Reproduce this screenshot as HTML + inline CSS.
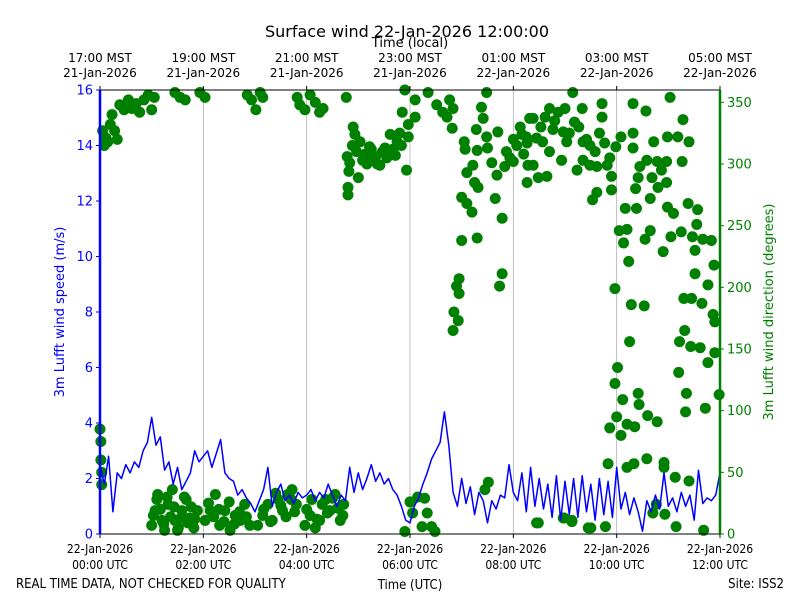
<!DOCTYPE html>
<html><head><meta charset="utf-8">
<style>
body{margin:0;background:#fff;}
svg{display:block;font-family:"DejaVu Sans","Liberation Sans",sans-serif;}
.c{font-family:"DejaVu Sans Condensed","DejaVu Sans","Liberation Sans",sans-serif;}
</style></head>
<body>
<svg id="chart" width="800" height="600" viewBox="0 0 800 600" xmlns="http://www.w3.org/2000/svg">
<rect width="800" height="600" fill="#fff"/>
<text x="407" y="37" font-size="16" text-anchor="middle">Surface wind 22-Jan-2026 12:00:00</text>
<text x="410" y="47" font-size="13" text-anchor="middle">Time (local)</text>
<g id="grid"></g>
<g id="dirg"></g>
<g id="spdg"></g>
<g id="axes"></g>
<text transform="translate(64,312) rotate(-90)" font-size="13" fill="#0000ff" text-anchor="middle">3m Lufft wind speed (m/s)</text>
<text transform="translate(773,312) rotate(-90)" font-size="13" fill="#008000" text-anchor="middle">3m Lufft wind direction (degrees)</text>
<text class="c" x="410" y="589" font-size="13" text-anchor="middle">Time (UTC)</text>
<text class="c" x="16" y="588" font-size="13">REAL TIME DATA, NOT CHECKED FOR QUALITY</text>
<text class="c" x="784" y="588" font-size="13" text-anchor="end">Site: ISS2</text>
</svg>
<script>
const timeTicksUTC = ["00:00 UTC","02:00 UTC","04:00 UTC","06:00 UTC","08:00 UTC","10:00 UTC","12:00 UTC"];
const dateTicksUTC = ["22-Jan-2026","22-Jan-2026","22-Jan-2026","22-Jan-2026","22-Jan-2026","22-Jan-2026","22-Jan-2026"];
const timeTicksLocal = ["17:00 MST","19:00 MST","21:00 MST","23:00 MST","01:00 MST","03:00 MST","05:00 MST"];
const dateTicksLocal = ["21-Jan-2026","21-Jan-2026","21-Jan-2026","21-Jan-2026","22-Jan-2026","22-Jan-2026","22-Jan-2026"];
const speedTicks = [0,2,4,6,8,10,12,14,16];
const dirTicks = [0,50,100,150,200,250,300,350];
const speedStepMin = 5;
const speedValues = [2.5,1.8,2.8,0.8,2.2,2.0,2.5,2.2,2.6,2.4,3.0,3.3,4.2,3.2,3.5,2.3,2.6,1.8,2.4,1.6,1.9,2.2,3.0,2.6,2.8,3.0,2.4,2.9,3.4,2.2,2.0,1.9,1.4,1.6,1.3,1.1,0.8,1.2,1.6,2.4,1.0,1.5,1.8,1.2,1.4,1.1,1.5,1.3,1.4,1.6,1.2,1.5,1.3,1.8,1.4,1.0,1.4,1.2,2.4,1.5,2.2,1.6,2.0,2.5,1.9,2.2,1.8,2.0,1.6,1.4,1.0,0.5,0.4,1.0,1.3,1.8,2.2,2.7,3.0,3.3,4.4,3.2,1.5,1.0,2.0,1.1,1.7,0.7,1.5,1.2,0.4,1.2,0.9,1.4,1.3,2.5,1.5,1.2,2.2,0.8,2.4,1.0,2.0,0.9,1.8,0.6,2.1,0.5,1.9,0.7,2.0,0.6,2.1,0.8,1.8,0.5,2.0,0.7,1.9,0.6,2.4,0.9,1.5,0.7,1.3,0.8,0.1,1.2,0.8,1.4,0.9,2.2,1.0,1.3,0.8,1.5,1.0,1.4,0.5,2.3,1.1,1.3,1.2,1.4,2.2];
const dirMinutes = [
0,1,1,2,2,
3,5,7,9,12,14,17,20,23,28,33,37,42,46,51,56,60,63,
60,64,67,72,75,79,84,87,91,95,100,104,109,113,
87,93,99,116,122,
122,128,134,139,145,151,157,163,168,174,
171,176,181,186,189,
183,189,195,200,207,212,218,223,228,
229,232,238,244,250,255,259,
238,244,250,255,262,267,273,279,283,
286,294,296,293,287,290,289,300,288,288,
305,313,317,325,331,337,343,348,356,358,
358,351,366,366,354,381,391,398,406,410,
403,409,449,443,445,437,449,423,424,438,
450,462,433,426,435,439,455,461,470,480,
490,496,499,497,496,459,420,426,432,467,
420,438,417,414,417,411,416,410,467,464,
354,360,369,377,363,380,374,385,389,447,451,509,538,548,
472,476,480,484,488,492,495,512,528,545,556,565,575,580,592,
503,517,522,532,540,549,560,551,526,538,
507,514,542,561,569,522,536,503,509,519,
554,561,569,577,589,594,594,577,572,583,
583,586,599,605,619,619,619,634,643,659,
662,677,671,684,676,627,635,647,652,658,
641,658,648,625,622,639,610,623,659,683,
694,666,603,612,608,633,639,654,663,675,
688,693,691,700,710,713,614,691,706,598,
617,632,678,687,699,712,714,615,679,673,
686,697,706,714,601,598,672,607,625,626,
681,719,600,592,612,621,636,647,605,680,
703,590,612,620,635,655,655,668,684,646,
642,656,507,539,548,567,570,587,669,701,
62,66,70,74,78,82,86,90,94,98,
102,106,110,126,132,138,144,150,156,162,
170,190,198,204,210,216,222,226,240,246,
252,258,264,270,276,282,
298,302,308,310,315,320,322,328,333,340,345,350];
const dirDegrees = [
85,75,60,50,40,
327,315,321,318,332,340,327,320,348,344,352,345,349,342,352,356,344,354,
7,19,32,11,3,24,36,11,5,19,28,13,5,19,
358,354,352,358,354,
11,19,32,7,19,3,15,11,24,7,
356,352,344,358,354,
7,15,24,11,28,19,32,36,24,
354,348,344,356,350,342,345,
7,15,5,11,28,19,32,11,24,
354,330,324,315,306,301,294,289,281,275,
303,314,305,299,313,324,307,325,295,322,
332,342,338,352,360,358,348,342,352,345,
338,329,358,346,337,328,322,318,312,311,
313,326,299,293,285,281,301,291,298,302,
324,317,337,299,285,272,273,268,261,256,
238,240,207,201,195,180,173,165,211,201,
2,26,30,29,17,17,6,6,2,36,42,9,13,10,
310,305,320,315,330,308,322,330,335,325,330,320,310,325,305,
337,338,345,342,345,358,345,334,328,326,
321,318,318,318,315,310,303,299,289,290,
295,303,299,298,299,290,279,277,271,349,
338,317,314,322,349,325,313,343,318,322,
354,336,322,318,302,298,303,302,295,302,
289,285,281,289,280,272,264,264,265,268,
263,260,246,247,236,239,246,229,241,245,
241,251,230,239,238,218,221,211,202,199,
186,185,191,191,187,178,172,156,165,156,
152,151,139,147,135,122,131,109,114,105,
114,113,95,86,89,87,96,91,80,99,
102,57,54,57,61,58,54,46,43,24,
17,16,9,13,11,5,5,6,6,3,
15,28,20,8,30,14,22,3,13,30,
9,22,12,25,14,20,10,26,8,18,
14,20,10,33,23,14,28,18,20,28,
12,24,17,29,21,15,
310,318,308,300,312,306,300,310,305,312,318,315];

const PX0=100,PX1=720,PY0=534,PY1=90;
function xOf(m){return PX0 + (m/720)*(PX1-PX0);}
function ySpd(v){return PY0 - (v/16)*(PY0-PY1);}
function yDir(d){return PY0 - (d/360)*(PY0-PY1);}
const SVGNS="http://www.w3.org/2000/svg";
function mk(tag, attrs, parent){const e=document.createElementNS(SVGNS,tag);for(const k in attrs)e.setAttribute(k,attrs[k]);parent.appendChild(e);return e;}
const gridG=document.getElementById('grid'),dirG=document.getElementById('dirg'),spdG=document.getElementById('spdg'),axesG=document.getElementById('axes');

for(let i=1;i<timeTicksUTC.length-1;i++){
  const x=xOf(i*120);
  const g=mk('line',{x1:x,y1:PY1,x2:x,y2:PY0,stroke:'#b0b0b0','stroke-width':0.8},gridG);
  
  
}

const nDir=Math.min(dirMinutes.length,dirDegrees.length);
for(let i=0;i<nDir;i++){
  const c=mk('circle',{cx:xOf(dirMinutes[i]),cy:yDir(dirDegrees[i]),r:5.5,fill:'#008000'},dirG);
  
  
}

const spdPts=speedValues.map((v,i)=>xOf(i*speedStepMin).toFixed(1)+','+ySpd(v).toFixed(1)).join(' ');
const spdLine=mk('polyline',{points:spdPts,fill:'none',stroke:'#0000ff','stroke-width':1.5,'stroke-linejoin':'round'},spdG);



const topSpine=mk('line',{x1:PX0,y1:PY1,x2:PX1,y2:PY1,stroke:'#000','stroke-width':1},axesG);


const botSpine=mk('line',{x1:PX0,y1:PY0,x2:PX1,y2:PY0,stroke:'#000','stroke-width':1},axesG);


const leftSpine=mk('line',{x1:PX0,y1:PY1,x2:PX0,y2:PY0,stroke:'#0000ff','stroke-width':2.5},axesG);


const rightSpine=mk('line',{x1:PX1,y1:PY1,x2:PX1,y2:PY0,stroke:'#008000','stroke-width':2.5},axesG);



for(let i=0;i<timeTicksUTC.length;i++){
  const x=xOf(i*120);
  mk('line',{x1:x,y1:PY0,x2:x,y2:PY0+4,stroke:'#000'},axesG);
  mk('line',{x1:x,y1:PY1,x2:x,y2:PY1-4,stroke:'#000'},axesG);
  const t1=mk('text',{x:x,y:553,'font-size':12,'text-anchor':'middle',class:'c'},axesG);
  t1.textContent=dateTicksUTC[i];
  
  
  const t2=mk('text',{x:x,y:569,'font-size':12,'text-anchor':'middle',class:'c'},axesG);
  t2.textContent=timeTicksUTC[i];
  
  
  const t3=mk('text',{x:x,y:62,'font-size':12,'text-anchor':'middle'},axesG);
  t3.textContent=timeTicksLocal[i];
  
  
  const t4=mk('text',{x:x,y:77,'font-size':12,'text-anchor':'middle'},axesG);
  t4.textContent=dateTicksLocal[i];
  
  
}
speedTicks.forEach(v=>{
  const y=ySpd(v);
  mk('line',{x1:PX0-4,y1:y,x2:PX0,y2:y,stroke:'#0000ff'},axesG);
  const t=mk('text',{x:PX0-7,y:y+4.5,'font-size':13,'text-anchor':'end',fill:'#0000ff'},axesG);
  t.textContent=v;
  
  
});
dirTicks.forEach(v=>{
  const y=yDir(v);
  mk('line',{x1:PX1,y1:y,x2:PX1+4,y2:y,stroke:'#008000'},axesG);
  const t=mk('text',{x:PX1+7,y:y+4.5,'font-size':13,fill:'#008000'},axesG);
  t.textContent=v;
  
  
});
</script>
</body></html>
